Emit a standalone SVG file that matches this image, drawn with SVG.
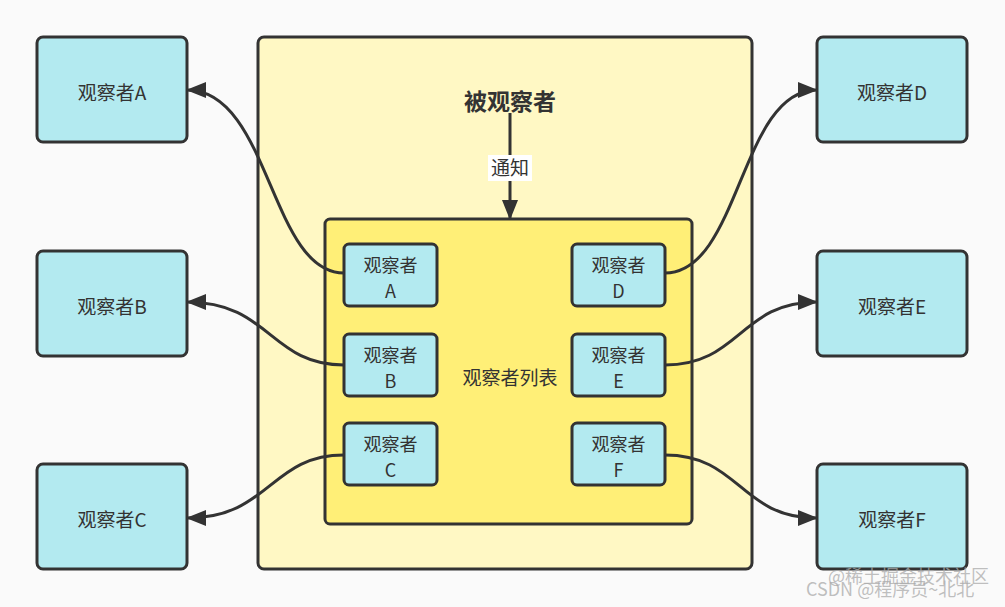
<svg xmlns="http://www.w3.org/2000/svg" width="1005" height="607" viewBox="0 0 1005 607">
<style>
.obs{fill:#b3eaf0;stroke:#333;stroke-width:3}
.t{font-family:"Noto Sans CJK SC","Noto Sans",sans-serif;font-size:19px;fill:#333;text-anchor:middle}
.s{font-size:18px}
.c{fill:none;stroke:#333;stroke-width:3}
</style>
<defs>
<marker id="ah" viewBox="0 0 20 16" refX="19" refY="8" markerWidth="20" markerHeight="16" markerUnits="userSpaceOnUse" orient="auto">
<path d="M0,0 L20,8 L0,16 Z" fill="#333"/>
</marker>
</defs>
<rect width="1005" height="607" fill="#fafafa"/>
<g id="subject">
<rect x="258" y="37" width="494" height="532" rx="6" fill="#fff8c4" stroke="#333" stroke-width="3"/>
<text class="t" x="510" y="110" style="font-weight:bold;font-size:23px">被观察者</text>
</g>
<g id="list">
<rect x="325" y="219" width="367" height="305" rx="5" fill="#ffef77" stroke="#333" stroke-width="3"/>
<text class="t" x="510" y="385">观察者列表</text>
</g>
<g id="obsA"><rect class="obs" x="37" y="37" width="150" height="105" rx="6"/><text class="t" x="112" y="100">观察者A</text></g>
<g id="obsB"><rect class="obs" x="37" y="251" width="150" height="105" rx="6"/><text class="t" x="112" y="314">观察者B</text></g>
<g id="obsC"><rect class="obs" x="37" y="464" width="150" height="105" rx="6"/><text class="t" x="112" y="527">观察者C</text></g>
<g id="obsD"><rect class="obs" x="817" y="37" width="150" height="105" rx="6"/><text class="t" x="892" y="100">观察者D</text></g>
<g id="obsE"><rect class="obs" x="817" y="251" width="150" height="105" rx="6"/><text class="t" x="892" y="314">观察者E</text></g>
<g id="obsF"><rect class="obs" x="817" y="464" width="150" height="105" rx="6"/><text class="t" x="892" y="527">观察者F</text></g>
<g id="lA"><rect class="obs" x="344" y="244" width="93" height="62" rx="5"/><text class="t s" x="390.5" y="272">观察者</text><text class="t s" x="390.5" y="298">A</text></g>
<g id="lB"><rect class="obs" x="344" y="334" width="93" height="62" rx="5"/><text class="t s" x="390.5" y="362">观察者</text><text class="t s" x="390.5" y="388">B</text></g>
<g id="lC"><rect class="obs" x="344" y="423" width="93" height="62" rx="5"/><text class="t s" x="390.5" y="451">观察者</text><text class="t s" x="390.5" y="477">C</text></g>
<g id="lD"><rect class="obs" x="572" y="244" width="93" height="62" rx="5"/><text class="t s" x="618.5" y="272">观察者</text><text class="t s" x="618.5" y="298">D</text></g>
<g id="lE"><rect class="obs" x="572" y="334" width="93" height="62" rx="5"/><text class="t s" x="618.5" y="362">观察者</text><text class="t s" x="618.5" y="388">E</text></g>
<g id="lF"><rect class="obs" x="572" y="423" width="93" height="62" rx="5"/><text class="t s" x="618.5" y="451">观察者</text><text class="t s" x="618.5" y="477">F</text></g>
<g id="connectors">
<path class="c" d="M510,113 L510,219" marker-end="url(#ah)"/>
<rect x="488" y="155" width="44" height="26" fill="#fff"/>
<text class="t" x="510" y="175">通知</text>
<path class="c" d="M344,273 C270,273 270,90 187,90" marker-end="url(#ah)"/>
<path class="c" d="M344,365 C270,365 270,302 187,302" marker-end="url(#ah)"/>
<path class="c" d="M344,455 C270,455 270,518 187,518" marker-end="url(#ah)"/>
<path class="c" d="M665,273 C740,273 740,90 817,90" marker-end="url(#ah)"/>
<path class="c" d="M665,365 C740,365 740,302 817,302" marker-end="url(#ah)"/>
<path class="c" d="M665,455 C740,455 740,518 817,518" marker-end="url(#ah)"/>
</g>
<g id="watermark" font-family="'Noto Sans CJK SC',sans-serif" font-size="18" fill="#aaa" fill-opacity="0.75">
<text x="828" y="583">@稀土掘金技术社区</text>
<text x="806" y="596">CSDN @程序员~北北</text>
</g>
</svg>
